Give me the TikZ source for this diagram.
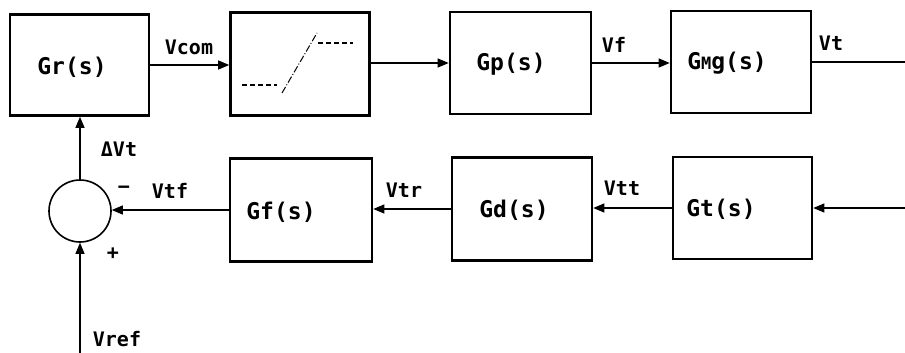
\documentclass[tikz,border=0pt]{standalone}
\usepackage{fontspec}
\setmonofont{DejaVu Sans Mono}
\usetikzlibrary{arrows.meta}
\tikzset{
  blk/.style={draw, line width=2.6pt, inner sep=0pt},
  blktxt/.style={font=\ttfamily\bfseries\fontsize{23}{23}\selectfont, inner sep=0pt},
  conn/.style={line width=1.1pt, -{Triangle[length=11pt,width=9pt]}},
  plain/.style={line width=1.1pt},
  lbl/.style={font=\ttfamily\bfseries\fontsize{20}{20}\selectfont, inner sep=0pt},
  sumc/.style={draw, circle, line width=1.6pt, minimum size=62pt, inner sep=0pt}
}
\begin{document}
\begin{tikzpicture}[x=1pt,y=-1pt]
\useasboundingbox (0,0) rectangle (905,353);
% top row
\node[blk, minimum width=139pt, minimum height=101pt] (gr) at (79.5,65) {};
\node[blk, minimum width=139pt, minimum height=103pt] (sat) at (300,64) {};
\node[blk, minimum width=141pt, minimum height=102pt] (gp) at (520.5,63) {};
\node[blk, minimum width=140pt, minimum height=102pt] (gmg) at (741,62) {};
% bottom row
\node[blk, minimum width=142pt, minimum height=103pt] (gf) at (301,210) {};
\node[blk, minimum width=140pt, minimum height=103pt] (gd) at (522,209) {};
\node[blk, minimum width=139pt, minimum height=102pt] (gt) at (742.5,208) {};
\node[sumc] (sum) at (80,211) {};
% block texts
\node[blktxt] (grt) at (72,67) {Gr(s)};
\node[blktxt] (gpt) at (511,64) {Gp(s)};
\node[blktxt] (gmgt) at (727,63) {G{\fontsize{17}{17}\selectfont M}g(s)};
\node[blktxt] (gft) at (281,212) {Gf(s)};
\node[blktxt] (gdt) at (514,210) {Gd(s)};
\node[blktxt] (gtt) at (721,209) {Gt(s)};
\coordinate (vtout) at (905,62);
\coordinate (fbin) at (905,208);
\coordinate (vrefin) at (80,353);
% saturation symbol
\draw[line width=1.2pt, dash pattern=on 5pt off 3pt] (242,85) -- (277,85);
\draw[line width=1.2pt, dash pattern=on 5pt off 3pt] (318,43) -- (353,43);
\draw[line width=1pt, dash pattern=on 7pt off 2pt on 1pt off 2pt] (282,93) -- (317,33);
% connectors
\draw[conn] (gr.east) -- (gr.east -| sat.west);
\draw[conn] (sat.east |- gp.west) -- (gp.west);
\draw[conn] (gp.east) -- (gp.east -| gmg.west);
\draw[plain] (gmg.east) -- (vtout);
\draw[conn] (fbin) -- (gt.east);
\draw[conn] (gt.west) -- (gt.west -| gd.east);
\draw[conn] (gd.west) -- (gd.west -| gf.east);
\draw[conn] (gf.west) -- (gf.west -| sum.east);
\draw[conn] (sum.north) -- (sum.north |- gr.south);
\draw[conn] (vrefin) -- (sum.south);
% labels
\node[lbl] (l1) at (189,47) {Vcom};
\node[lbl] (l2) at (614,45) {Vf};
\node[lbl] (l3) at (831,43) {Vt};
\node[lbl] (l4) at (119,149) {ΔVt};
\node[lbl] (l5) at (170,191) {Vtf};
\node[lbl] (l6) at (404,190) {Vtr};
\node[lbl] (l7) at (622,188) {Vtt};
\node[lbl] (l8) at (124,190) {−};
\node[lbl] (l9) at (113,254) {+};
\node[lbl] (l10) at (117,339) {Vref};
\end{tikzpicture}
\end{document}
